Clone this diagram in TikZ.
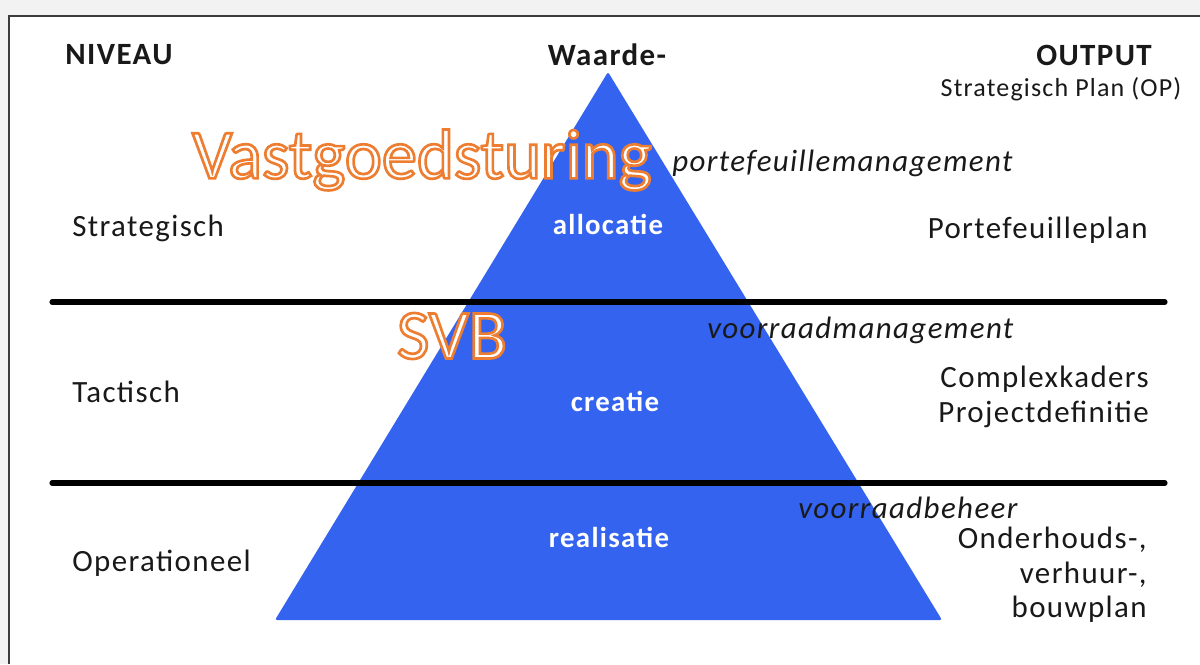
\documentclass[tikz,border=0pt]{standalone}
\usepackage{fontspec}
\setmainfont{Carlito}[LetterSpace=4.5]
\newfontfamily\grootfont{Carlito}

\definecolor{pyrblauw}{RGB}{52,99,240}
\definecolor{oranje}{RGB}{237,125,49}
\definecolor{tekst}{RGB}{25,25,25}
\definecolor{rand}{RGB}{60,60,60}

% witte letters met een oranje rand
\newcommand\omtrek[1]{\special{pdf:literal direct 2 Tr 1.9 w 0.929 0.490 0.192 RG}#1\special{pdf:literal direct 0 Tr}}

\tikzset{
	lbl/.style={inner sep=0pt,text=tekst,font=\fontsize{22}{26}\selectfont},
	kop/.style={lbl,font=\fontsize{22}{26}\selectfont\bfseries},
	schuin/.style={lbl,font=\fontsize{22}{26}\selectfont\itshape},
	uitvoer/.style={lbl,anchor=east,align=right,font=\fontsize{22}{24.5}\selectfont},
	laag/.style={inner sep=0pt,text=white,font=\fontsize{20.5}{24}\selectfont\bfseries},
	groot/.style={inner sep=0pt,text=white,font=\grootfont\fontsize{50}{56}\selectfont},
	grens/.style={line width=3.6pt,line cap=round}
}

\begin{document}
\begin{tikzpicture}[x=0.025cm,y=-0.025cm]
	\useasboundingbox (0,0) rectangle (1200,664);
	\fill[gray!10] (0,0) rectangle (1200,664);
	\fill[white] (9,16) rectangle (1200,664);
	\draw[rand,line width=1.5pt] (9,664) -- (9,16) -- (1200,16);

	\fill[pyrblauw,rounded corners=1.5pt] (608,72) -- (942,620) -- (275,620) -- cycle;

	\draw[grens] (52,302) -- (1165,302);
	\draw[grens] (52,483) -- (1165,483);

	\node[kop] (niveau) at (119,55) {NIVEAU};
	\node[kop] (waarde) at (607,55) {Waarde-};
	\node[kop] (output) at (1094,55) {OUTPUT};
	\node[lbl,font=\fontsize{18.5}{22}\selectfont] (plan) at (1061,89) {Strategisch Plan (OP)};

	\node[groot] (sturing) at (422,160) {\omtrek{Vastgoedsturing}};
	\node[groot] (svb) at (452,336) {\omtrek{SVB}};

	\node[schuin,anchor=west] (pfm) at (672,163) {portefeuillemanagement};
	\node[schuin,anchor=west] (vrm) at (707,330) {voorraadmanagement};
	\node[schuin,anchor=west] (vrb) at (798,508) {voorraadbeheer};

	\node[laag] (allocatie) at (608,224) {allocatie};
	\node[laag] (creatie) at (615,401) {creatie};
	\node[laag] (realisatie) at (609,537) {realisatie};

	\node[lbl,anchor=west] (strat) at (72,228) {Strategisch};
	\node[lbl,anchor=west] (tact) at (72,392) {Tactisch};
	\node[lbl,anchor=west] (oper) at (72,563) {Operationeel};

	\node[uitvoer] (pfplan) at (1148,230) {Portefeuilleplan};
	\node[uitvoer] (kaders) at (1149,397) {Complexkaders\\Projectdefinitie};
	\node[uitvoer] (plannen) at (1147,575) {Onderhouds-,\\verhuur-,\\bouwplan};
\end{tikzpicture}
\end{document}
